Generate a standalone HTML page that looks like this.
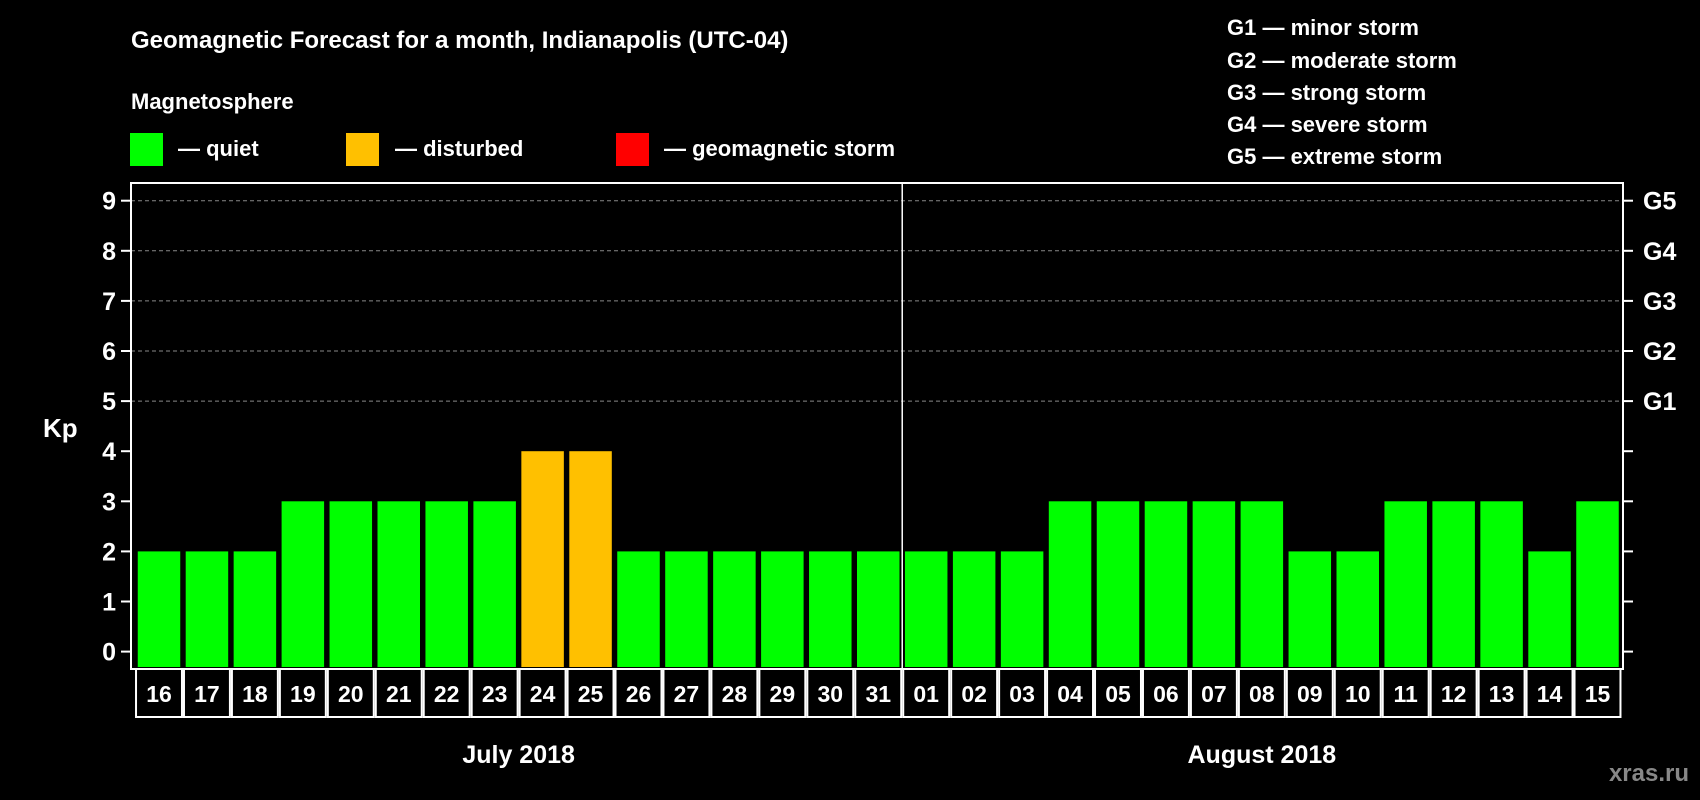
<!DOCTYPE html>
<html><head><meta charset="utf-8"><style>
html,body{margin:0;padding:0;background:#000;width:1700px;height:800px;overflow:hidden}
svg{display:block}
text{font-family:"Liberation Sans",sans-serif;font-weight:bold;fill:#fff}
</style></head><body>
<svg id="chart" width="1700" height="800" viewBox="0 0 1700 800" xmlns="http://www.w3.org/2000/svg">
<rect width="1700" height="800" fill="#000"/>
<text x="131" y="48" font-size="24">Geomagnetic Forecast for a month, Indianapolis (UTC-04)</text>
<text x="131" y="109" font-size="22">Magnetosphere</text>
<g>
<rect x="130" y="133" width="33" height="33" fill="#00ff00"/><text x="178" y="156" font-size="22">— quiet</text></g>
<g>
<rect x="346" y="133" width="33" height="33" fill="#ffc000"/><text x="395" y="156" font-size="22">— disturbed</text></g>
<g>
<rect x="616" y="133" width="33" height="33" fill="#ff0000"/><text x="664" y="156" font-size="22">— geomagnetic storm</text></g>
<g font-size="22">
<text x="1227" y="35">G1 — minor storm</text>
<text x="1227" y="68">G2 — moderate storm</text>
<text x="1227" y="100">G3 — strong storm</text>
<text x="1227" y="132">G4 — severe storm</text>
<text x="1227" y="164">G5 — extreme storm</text>
</g>
<text x="43" y="437" font-size="26">Kp</text>
<text x="1689" y="781" font-size="24" text-anchor="end" style="fill:#888">xras.ru</text>
<g id="plot"></g>
</svg>
<script>
const days = ["16","17","18","19","20","21","22","23","24","25","26","27","28","29","30","31","01","02","03","04","05","06","07","08","09","10","11","12","13","14","15"];
const kpValues = [2,2,2,3,3,3,3,3,4,4,2,2,2,2,2,2,2,2,2,3,3,3,3,3,2,2,3,3,3,2,3];
const yTicks = [0,1,2,3,4,5,6,7,8,9];
const gLabels = ["G1","G2","G3","G4","G5"];
const gLevels = [5,6,7,8,9];
const months = ["July 2018","August 2018"];
const monthStart = [0,16];
const monthLen = [16,15];

const NS="http://www.w3.org/2000/svg";
const g=document.getElementById('plot');
const L=131,R=1623,T=183,B=669;
const y0=651.6,unit=50.1;
const firstC=159,pitch=47.95,bw=42.5;
const yS=v=>y0-v*unit;
const xC=i=>firstC+i*pitch;
function mk(tag,attrs){const e=document.createElementNS(NS,tag);for(const k in attrs)e.setAttribute(k,attrs[k]);g.appendChild(e);return e;}
function color(v){return v>=5?"#ff0000":v>=4?"#ffc000":"#00ff00";}

// grid lines
gLevels.forEach(v=>{
 const l=mk('line',{x1:L,x2:R,y1:yS(v),y2:yS(v),stroke:'#888','stroke-width':1,'stroke-dasharray':'4,3'});
 
 
});
// bars
kpValues.forEach((v,i)=>{
 const r=mk('rect',{x:xC(i)-bw/2,y:yS(v),width:bw,height:B-2-yS(v),fill:color(v)});
 
 
});
// frame
const fr=mk('rect',{x:L,y:T,width:R-L,height:B-T,fill:'none',stroke:'#fff','stroke-width':2});


// month separator
const sx=(xC(15)+xC(16))/2;
const sep=mk('line',{x1:sx,x2:sx,y1:T,y2:B,stroke:'#fff','stroke-width':1.5});


// y ticks
yTicks.forEach(v=>{
 mk('line',{x1:L-10,x2:L,y1:yS(v),y2:yS(v),stroke:'#fff','stroke-width':2});
 mk('line',{x1:R,x2:R+10,y1:yS(v),y2:yS(v),stroke:'#fff','stroke-width':2});
 const t=mk('text',{x:116,y:yS(v)+9,'font-size':25,'text-anchor':'end'});
 t.textContent=v;
 
 
});
gLabels.forEach((s,i)=>{
 const t=mk('text',{x:1643,y:yS(gLevels[i])+9,'font-size':25});
 t.textContent=s;
 
 
});
// date cells
days.forEach((d,i)=>{
 const c=mk('rect',{x:xC(i)-pitch/2+1,y:B,width:pitch-2,height:48,fill:'none',stroke:'#fff','stroke-width':2});
 
 
 const t=mk('text',{x:xC(i),y:B+33,'font-size':23,'text-anchor':'middle'});
 t.textContent=d;
 
 
});
months.forEach((m,i)=>{
 const cx=(xC(monthStart[i])+xC(monthStart[i]+monthLen[i]-1))/2;
 const t=mk('text',{x:cx,y:763,'font-size':25,'text-anchor':'middle'});
 t.textContent=m;
 
 
});
</script>
</body></html>
